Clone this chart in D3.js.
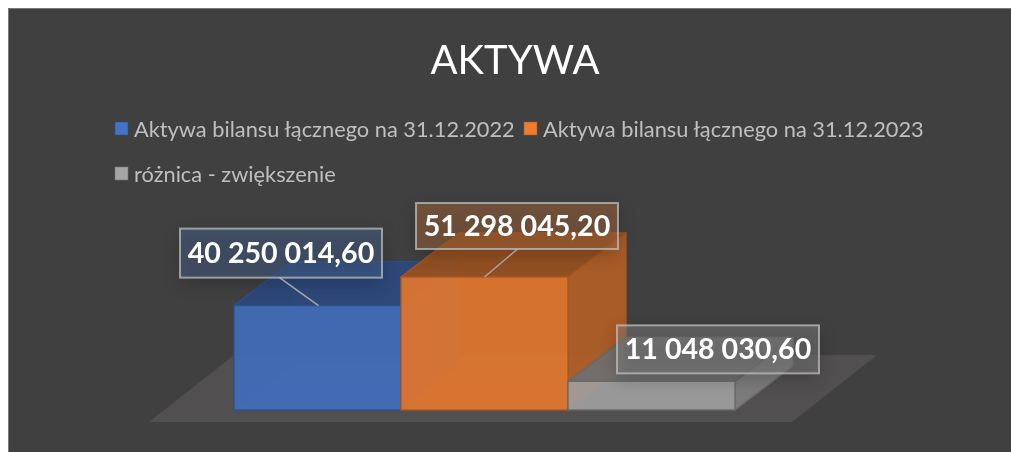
<!DOCTYPE html>
<html><head><meta charset="utf-8">
<script src="https://cdnjs.cloudflare.com/ajax/libs/d3/7.8.5/d3.min.js"></script>
<style>html,body{margin:0;padding:0;background:#fff}svg{display:block}text{font-family:Lato,Carlito,"Noto Sans",sans-serif}</style>
</head><body><div id="c"></div>
<script>
const title = "AKTYWA";
const seriesNames = ["Aktywa bilansu łącznego na 31.12.2022","Aktywa bilansu łącznego na 31.12.2023","różnica - zwiększenie"];
const seriesValues = [40250014.60, 51298045.20, 11048030.60];
const valueLabels = ["40 250 014,60","51 298 045,20","11 048 030,60"];
const seriesColors = ["#4472c4","#ed7d31","#a5a5a5"];

const W=1011,H=452;
const svg=d3.select("#c").append("svg").attr("width",W).attr("height",H);
const defs=svg.append("defs");
const sh=defs.append("filter").attr("id","sh").attr("x","-20%").attr("y","-40%").attr("width","140%").attr("height","190%");
sh.append("feGaussianBlur").attr("stdDeviation",9);
const soft=defs.append("filter").attr("id","soft").attr("x","-5%").attr("y","-20%").attr("width","110%").attr("height","140%");
soft.append("feGaussianBlur").attr("stdDeviation",0.4);

svg.append("rect").attr("x",8.5).attr("y",8.5).attr("width",W).attr("height",H)
  .attr("fill","#404040").attr("stroke","#7a7a7a");

svg.append("text").attr("x",515).attr("y",74).attr("text-anchor","middle")
  .attr("font-size",40).attr("fill","#fff").attr("filter","url(#soft)").text(title);

// legend
const legendLayout=[[115,122],[524,122],[115,167]];
const lg=svg.append("g").selectAll("g").data(seriesNames).join("g")
  .attr("transform",(d,i)=>`translate(${legendLayout[i]})`);
lg.append("rect").attr("width",13).attr("height",13).attr("fill",(d,i)=>seriesColors[i])
  .attr("stroke",(d,i)=>d3.color(seriesColors[i]).darker(1)).attr("stroke-width",1).attr("stroke-opacity",.6);
lg.append("text").attr("x",19).attr("y",14.5).attr("font-size",21.8).attr("fill","#bfbfbf").attr("filter","url(#soft)").text(d=>d);

// scales
const x=d3.scaleBand().domain(d3.range(seriesNames.length)).range([234,735]);
const y=d3.scaleLinear().domain([0,d3.max(seriesValues)]).range([410,277]);
const dx=58,dy=-44;

// floor
const fl=[[149,422],[792,422],[877,355],[234,355]];
svg.append("path").attr("d",d3.line()(fl)+"Z").attr("fill","#514f4f");

const poly=(g,pts,fill,stroke,op)=>g.append("path").attr("d",d3.line()(pts)+"Z")
  .attr("fill",fill).attr("fill-opacity",op).attr("stroke",stroke).attr("stroke-width",1.4).attr("stroke-opacity",op<0.6?.25:.9).attr("stroke-linejoin","round");

seriesValues.forEach((v,i)=>{
  const g=svg.append("g");
  const c=d3.color(seriesColors[i]);
  const l=x(i),r=l+x.bandwidth(),t=y(v),b=y(0);
  const edge=c.darker(i==2?1.3:1).formatHex();
  // inner faces seen through the translucent front
  poly(g,[[l+dx,b+dy],[r+dx,b+dy],[r+dx,t+dy],[l+dx,t+dy]],c.darker(.35).formatHex(),edge,.35);
  poly(g,[[l,b],[r,b],[r+dx,b+dy],[l+dx,b+dy]],c.formatHex(),edge,.35);
  poly(g,[[l,b],[l+dx,b+dy],[l+dx,t+dy],[l,t]],c.darker(.5).formatHex(),edge,.3);
  // outer faces
  poly(g,[[r,b],[r+dx,b+dy],[r+dx,t+dy],[r,t]],c.darker(i==2?.75:.8).formatHex(),edge,.85);
  poly(g,[[l,t],[r,t],[r+dx,t+dy],[l+dx,t+dy]],c.darker(i==2?1.1:1.3).formatHex(),edge,.92);
  poly(g,[[l,b],[r,b],[r,t],[l,t]],c.darker(.12).formatHex(),edge,.88);
});

// labels
const labelW=202;
const labelLayout=[{ox:-36.5,oy:-77,h:49,leader:[[-38,-28],[1,0]]},{ox:32.5,oy:-74,h:46,leader:[[33,-28],[0,0]]},{ox:66.5,oy:-56,h:48,leader:null}];
const lab=svg.append("g");
valueLabels.forEach((s,i)=>{
  const m=labelLayout[i];
  const cx=x(i)+x.bandwidth()/2, t=y(seriesValues[i]);
  const bx=cx+m.ox-labelW/2, by=t+m.oy;
  lab.append("rect").attr("x",bx).attr("y",by+5).attr("width",labelW).attr("height",m.h)
    .attr("fill","#000").attr("opacity",.22).attr("filter","url(#sh)");
  if(m.leader) lab.append("path").attr("d",d3.line()(m.leader.map(p=>[cx+p[0],t+p[1]])))
    .attr("stroke","#a6a6a6").attr("stroke-width",1.5).attr("fill","none");
  lab.append("rect").attr("x",bx).attr("y",by).attr("width",labelW).attr("height",m.h)
    .attr("fill",d3.color(seriesColors[i]).darker(1)).attr("fill-opacity",.42);
  lab.append("rect").attr("x",bx).attr("y",by).attr("width",labelW).attr("height",m.h)
    .attr("fill","#fff").attr("fill-opacity",.06).attr("stroke","#bdbdbd").attr("stroke-opacity",.75).attr("stroke-width",2);
  lab.append("text").attr("x",bx+labelW/2).attr("y",by+m.h/2+10).attr("text-anchor","middle")
    .attr("font-size",28.6).attr("font-weight",700).attr("fill","#fff").attr("filter","url(#soft)").text(s);
});
</script></body></html>
